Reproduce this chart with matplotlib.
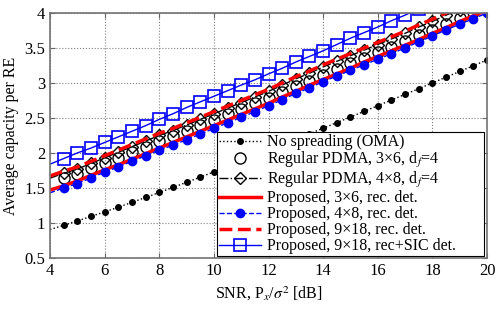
import matplotlib
matplotlib.use("Agg")
import matplotlib.pyplot as plt

plt.rcParams['font.family'] = ['Liberation Serif', 'DejaVu Serif']
plt.rcParams['mathtext.fontset'] = 'stix'
plt.rcParams['font.size'] = 11.5

# SNR grid (dB)
snr = [4, 4.5, 5, 5.5, 6, 6.5, 7, 7.5, 8, 8.5, 9, 9.5, 10, 10.5, 11, 11.5, 12,
       12.5, 13, 13.5, 14, 14.5, 15, 15.5, 16, 16.5, 17, 17.5, 18, 18.5, 19, 19.5, 20]

# No spreading (OMA)
oma = [0.906, 0.966, 1.029, 1.093, 1.158, 1.225, 1.294, 1.364, 1.435, 1.507, 1.581,
       1.654, 1.730, 1.806, 1.882, 1.959, 2.037, 2.116, 2.195, 2.274, 2.354, 2.434,
       2.514, 2.594, 2.675, 2.757, 2.838, 2.919, 3.001, 3.083, 3.165, 3.247, 3.329]

# Regular PDMA 3x6 (circles)
reg36 = [1.58, 1.64, 1.70, 1.78, 1.86, 1.93, 2.01, 2.09, 2.17, 2.24, 2.32, 2.40, 2.47,
         2.55, 2.63, 2.71, 2.79, 2.87, 2.95, 3.03, 3.12, 3.20, 3.28, 3.36, 3.44, 3.52,
         3.60, 3.68, 3.76, 3.85, 3.93, 4.01, 4.09]

# Regular PDMA 4x8 (diamonds)
reg48 = [1.64, 1.71, 1.77, 1.85, 1.93, 2.01, 2.09, 2.17, 2.25, 2.32, 2.40, 2.48, 2.56,
         2.64, 2.72, 2.80, 2.88, 2.97, 3.06, 3.14, 3.23, 3.31, 3.39, 3.47, 3.55, 3.63,
         3.71, 3.80, 3.88, 3.97, 4.05]

# Proposed 3x6, rec. det.
prop36 = [1.47, 1.53, 1.60, 1.68, 1.76, 1.83, 1.91, 1.99, 2.07, 2.15, 2.23, 2.31, 2.39,
          2.47, 2.55, 2.63, 2.71, 2.80, 2.88, 2.97, 3.05, 3.13, 3.21, 3.30, 3.38, 3.46,
          3.54, 3.62, 3.71, 3.79, 3.88, 3.96, 4.04]

# Proposed 4x8, rec. det.
prop48 = [1.43, 1.50, 1.56, 1.645, 1.725, 1.80, 1.88, 1.96, 2.04, 2.11, 2.19, 2.27, 2.35,
          2.43, 2.51, 2.59, 2.675, 2.76, 2.85, 2.93, 3.02, 3.10, 3.18, 3.26, 3.34, 3.42,
          3.50, 3.59, 3.67, 3.76, 3.84, 3.92, 4.00]

# Proposed 9x18, rec. det.
prop918 = [1.67, 1.74, 1.80, 1.88, 1.96, 2.04, 2.12, 2.20, 2.28, 2.35, 2.43, 2.51, 2.59,
           2.67, 2.75, 2.83, 2.91, 3.00, 3.09, 3.17, 3.26, 3.34, 3.42, 3.50, 3.58, 3.66,
           3.74, 3.83, 3.91, 4.00, 4.08]

# Proposed 9x18, rec+SIC det.
sic918 = [1.84, 1.92, 2.00, 2.07, 2.15, 2.23, 2.31, 2.39, 2.48, 2.56, 2.65, 2.73, 2.81,
          2.89, 2.97, 3.045, 3.13, 3.21, 3.30, 3.38, 3.46, 3.55, 3.64, 3.72, 3.80, 3.89,
          3.97, 4.06]

fig = plt.figure(figsize=(4.98, 3.10), dpi=100)
ax = fig.add_axes([0.1004, 0.168, 0.8776, 0.79])

mk = slice(1, None)
ax.plot(snr, oma, ':', color='k', marker='.', markersize=8, lw=1,
        markevery=mk, label='No spreading (OMA)')
ax.plot(snr[1:len(reg36)], reg36[1:], 'o', color='k', mfc='none', markersize=8,
        mew=1, label='Regular PDMA, 3×6, d$_f$=4')
ax.plot(snr[:len(reg48)], reg48, '-.', color='k', marker='D', mfc='none', markersize=6.5,
        mew=1, lw=1, markevery=mk, label='Regular PDMA, 4×8, d$_f$=4')
ax.plot(snr, prop36, '-', color='r', lw=2.5, label='Proposed, 3×6, rec. det.')
ax.plot(snr, prop48, '--', color='b', marker='.', markersize=12, lw=1,
        markevery=mk, label='Proposed, 4×8, rec. det.')
ax.plot(snr[:len(prop918)], prop918, '--', color='r', lw=2.5,
        label='Proposed, 9×18, rec. det.')
ax.plot(snr[:len(sic918)], sic918, '-', color='b', marker='s', mfc='none', markersize=8.5,
        mew=1.2, lw=1, markevery=mk, label='Proposed, 9×18, rec+SIC det.')

ax.set_xlim(4, 20)
ax.set_ylim(0.5, 4)
ax.set_xticks([4, 6, 8, 10, 12, 14, 16, 18, 20])
ax.set_yticks([0.5, 1, 1.5, 2, 2.5, 3, 3.5, 4])
ax.set_yticklabels(['0.5', '1', '1.5', '2', '2.5', '3', '3.5', '4'])
ax.tick_params(direction='in', top=True, right=True, labelsize=12, color='0.4')
ax.grid(True, linestyle=':', color='0.5', lw=0.8)
for s in ax.spines.values():
    s.set_color('0.45')
    s.set_linewidth(1.2)

ax.set_xlabel(r'SNR, P$_x$/$\sigma^2$ [dB]', fontsize=11.5)
ax.set_ylabel('Average capacity per RE', fontsize=11.5)

leg = ax.legend(loc='lower left', bbox_to_anchor=(0.436, 0.174, 0.536, 0.397),
                bbox_transform=fig.transFigure, mode='expand', borderaxespad=0,
                fancybox=False, framealpha=1, edgecolor='k', numpoints=1,
                handlelength=2.6, handletextpad=0.4, labelspacing=0.0,
                borderpad=0.12, fontsize=11.5)
leg.get_frame().set_linewidth(0.8)

fig.savefig('out.png', dpi=100)
